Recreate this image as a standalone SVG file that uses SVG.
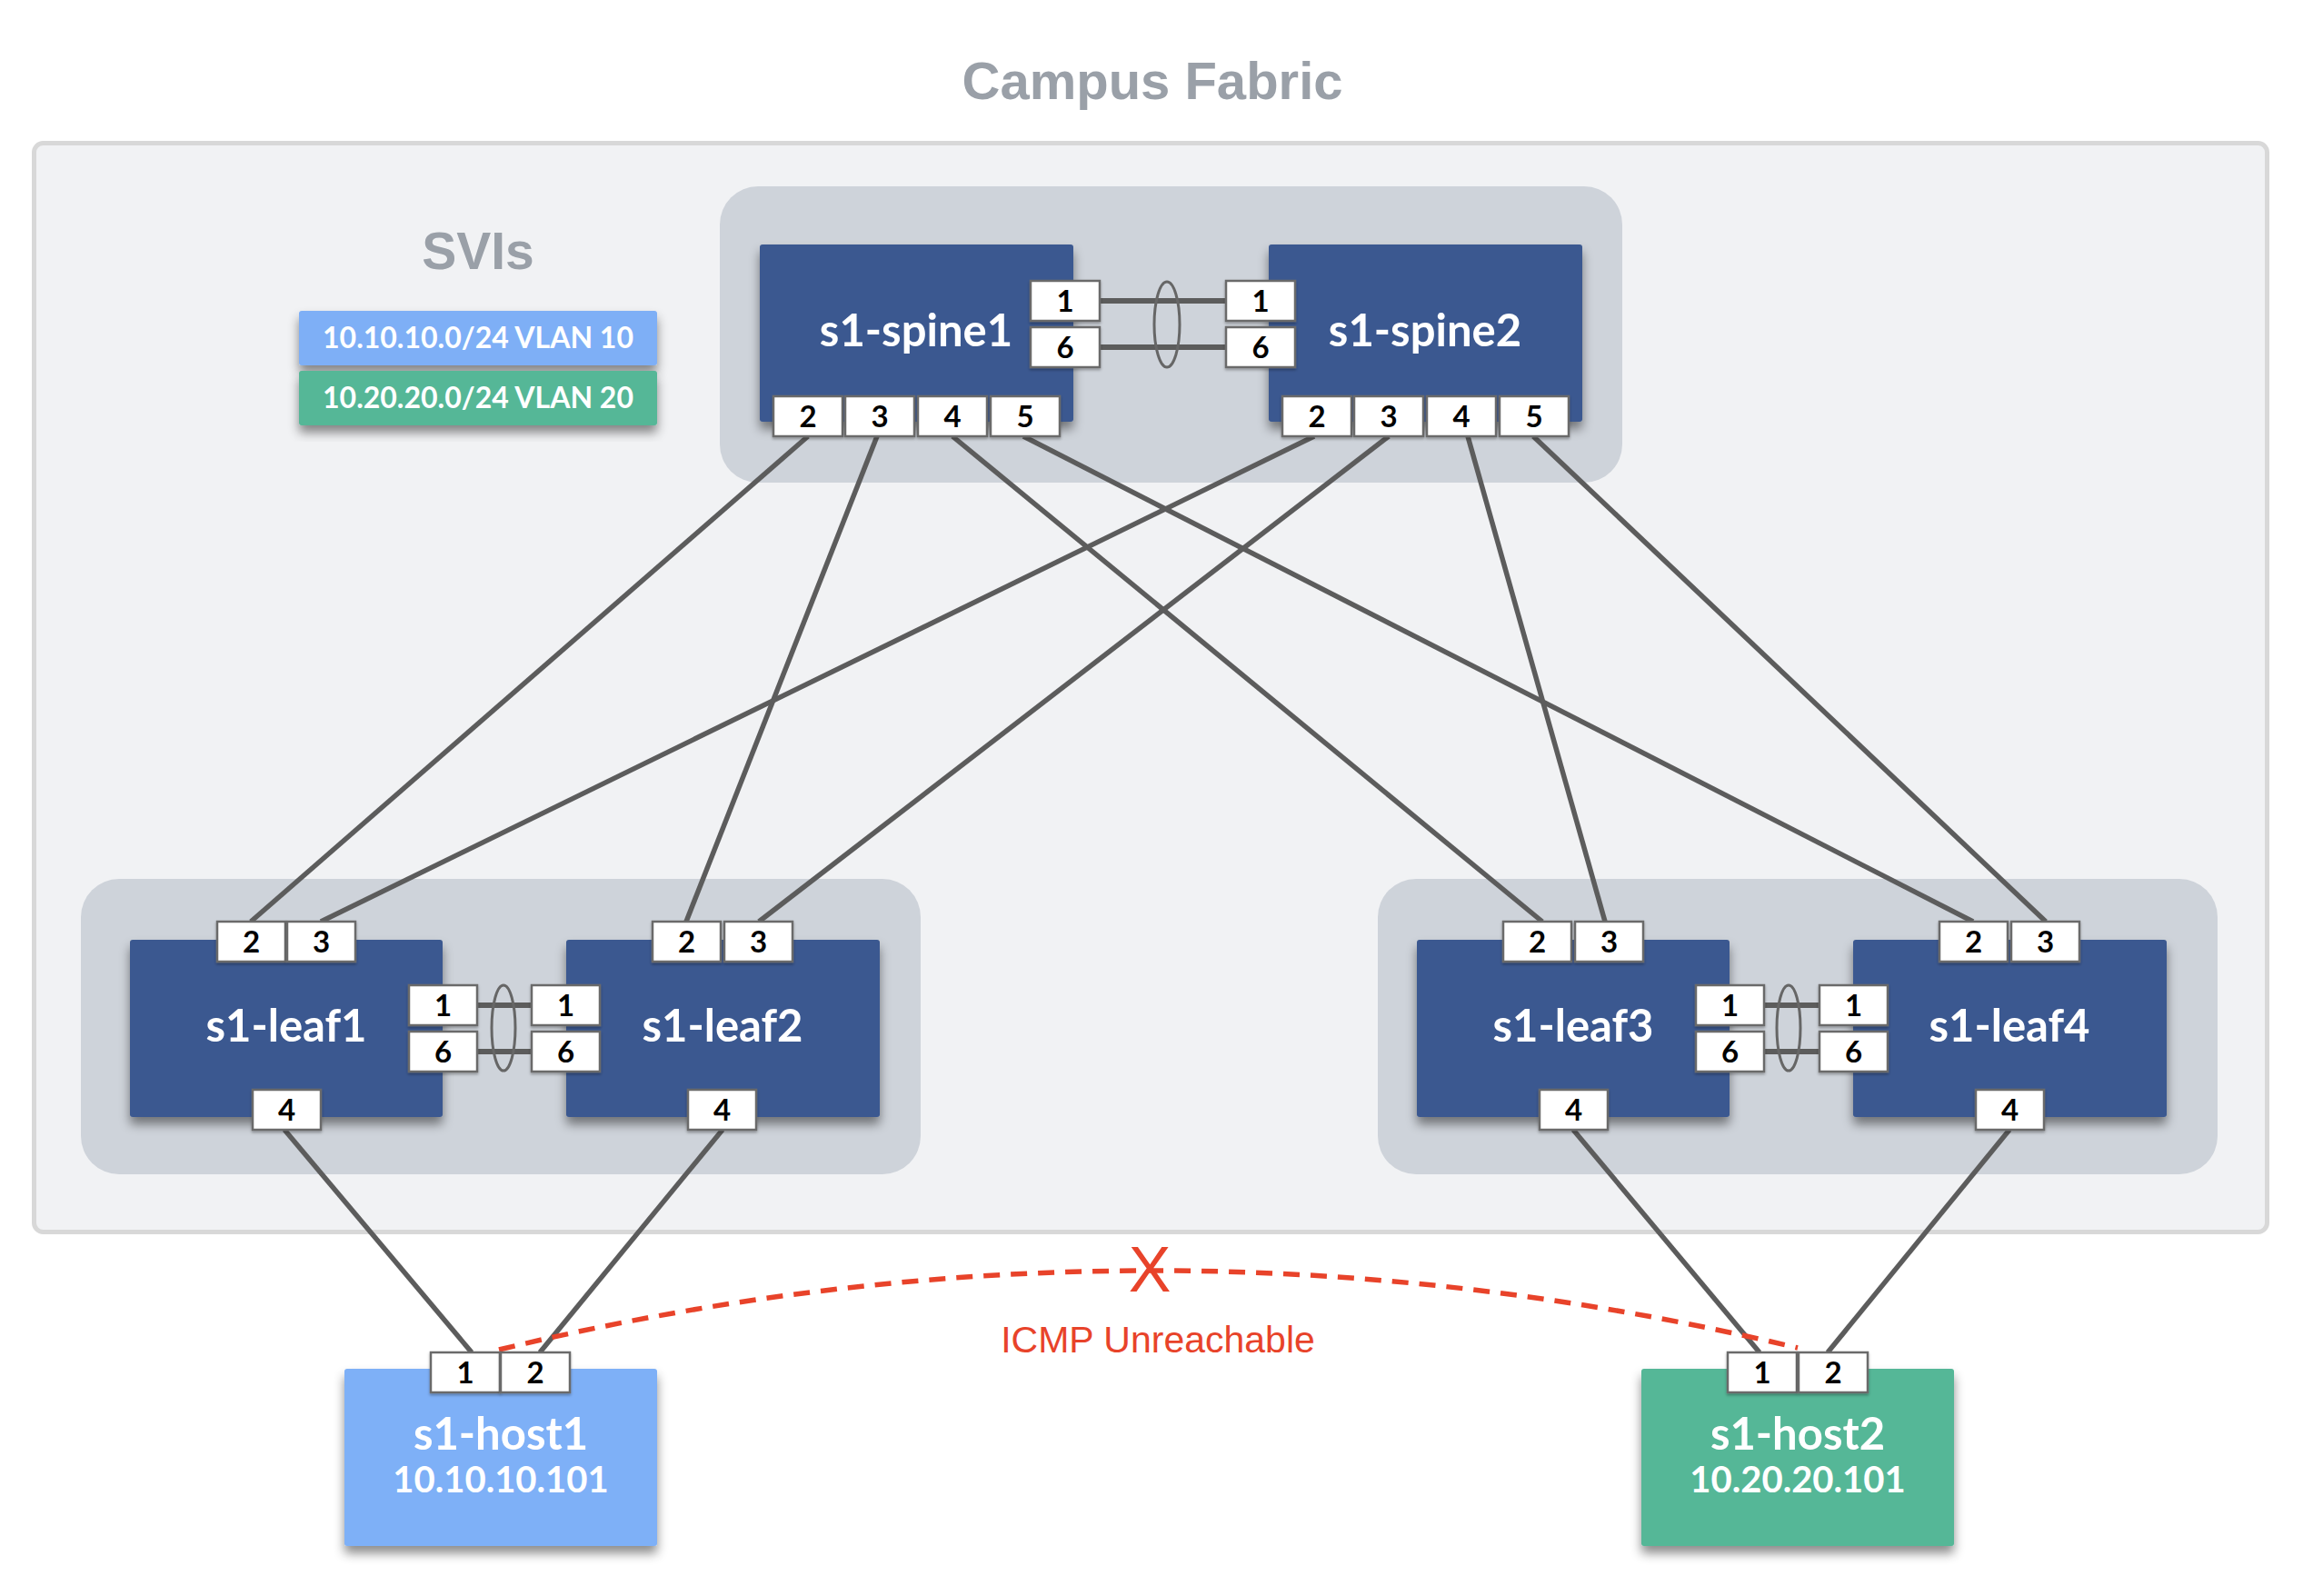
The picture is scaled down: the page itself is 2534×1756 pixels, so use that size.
<svg xmlns="http://www.w3.org/2000/svg" width="2534" height="1756" viewBox="0 0 2534 1756">
<defs>
<filter id="sh" x="-20%" y="-20%" width="140%" height="150%">
<feDropShadow dx="0" dy="8" stdDeviation="6" flood-color="#000" flood-opacity="0.45"/>
</filter>
<filter id="psh" x="-20%" y="-20%" width="140%" height="160%">
<feDropShadow dx="0" dy="2" stdDeviation="1.5" flood-color="#000" flood-opacity="0.3"/>
</filter>
<style>
.title{font-family:"Liberation Sans",Arial,sans-serif;font-weight:bold;fill:#9aa0a8;text-anchor:middle}
.grp{fill:#ced3da}
.sw{fill:#3b5890;filter:url(#sh)}
.lbl{font-family:Lato,"Liberation Sans",sans-serif;font-weight:bold;fill:#fff;text-anchor:middle;font-size:49px}
.ip{font-family:Lato,"Liberation Sans",sans-serif;font-weight:bold;fill:#fff;text-anchor:middle;font-size:40px}
.port rect{fill:#fff;stroke:#6b6b6b;stroke-width:2.5;filter:url(#psh)}
.port text{font-family:Lato,"Liberation Sans",sans-serif;font-weight:bold;font-size:33px;fill:#000;text-anchor:middle}
.link{stroke:#5c5c5c;stroke-width:5.5;fill:none}
.lag{stroke:#5c5c5c;stroke-width:6;fill:none}
.ring{stroke:#666;stroke-width:3;fill:none}
.vlan{font-family:Lato,"Liberation Sans",sans-serif;font-weight:bold;fill:#fff;text-anchor:middle;font-size:32px}
</style>
</defs>
<rect width="2534" height="1756" fill="#fff"/>
<text class="title" x="1268" y="109" font-size="58">Campus Fabric</text>
<rect id="campus" x="37.5" y="157.5" width="2457" height="1198" rx="10" fill="#f1f2f4" stroke="#d8d8d8" stroke-width="5"/>
<g id="svis">
<text class="title" x="526" y="296" font-size="57">SVIs</text>
<rect x="329" y="342" width="394" height="60" rx="3" fill="#7eaff6" filter="url(#sh)"/>
<text class="vlan" x="526" y="383">10.10.10.0/24 VLAN 10</text>
<rect x="329" y="408" width="394" height="60" rx="3" fill="#54b797" filter="url(#sh)"/>
<text class="vlan" x="526" y="449">10.20.20.0/24 VLAN 20</text>
</g>
<g id="groups">
<rect class="grp" x="792" y="205" width="993" height="326" rx="42"/>
<rect class="grp" x="89" y="967" width="924" height="325" rx="42"/>
<rect class="grp" x="1516" y="967" width="924" height="325" rx="42"/>
</g>
<g id="connectors">
<line class="link" x1="889" y1="480" x2="276" y2="1014"/>
<line class="link" x1="965" y1="480" x2="755" y2="1014"/>
<line class="link" x1="1048" y1="480" x2="1697" y2="1014"/>
<line class="link" x1="1126" y1="480" x2="2171" y2="1014"/>
<line class="link" x1="1446" y1="480" x2="353" y2="1014"/>
<line class="link" x1="1528" y1="480" x2="835" y2="1014"/>
<line class="link" x1="1615" y1="480" x2="1766" y2="1014"/>
<line class="link" x1="1687" y1="480" x2="2251" y2="1014"/>
<line class="link" x1="313" y1="1243" x2="519" y2="1488"/>
<line class="link" x1="795" y1="1243" x2="594" y2="1488"/>
<line class="link" x1="1731" y1="1243" x2="1936" y2="1488"/>
<line class="link" x1="2211" y1="1243" x2="2011" y2="1488"/>
<line class="lag" x1="1205" y1="331" x2="1355" y2="331"/>
<line class="lag" x1="1205" y1="382" x2="1355" y2="382"/>
<ellipse class="ring" cx="1284" cy="357" rx="14" ry="47"/>
<line class="lag" x1="520" y1="1106" x2="590" y2="1106"/>
<line class="lag" x1="520" y1="1157" x2="590" y2="1157"/>
<ellipse class="ring" cx="554" cy="1131" rx="13" ry="47"/>
<line class="lag" x1="1936" y1="1106" x2="2006" y2="1106"/>
<line class="lag" x1="1936" y1="1157" x2="2006" y2="1157"/>
<ellipse class="ring" cx="1968" cy="1131" rx="13" ry="47"/>
<path d="M549,1485 Q1264,1312 1978,1483" fill="none" stroke="#e8432a" stroke-width="5.5" stroke-dasharray="18 12"/>
</g>
<g id="icmp">
<text x="1265" y="1421" font-family="Liberation Sans,Arial,sans-serif" font-size="70" fill="#e8432a" text-anchor="middle">X</text>
<text x="1274" y="1488" font-family="Liberation Sans,Arial,sans-serif" font-size="41" fill="#e8432a" text-anchor="middle">ICMP Unreachable</text>
</g>
<g id="s1-spine1">
<rect class="sw" x="836" y="269" width="345" height="195" rx="3"/>
<text class="lbl" x="1008" y="381">s1-spine1</text>
<g class="port"><rect x="1134" y="309" width="76" height="44"/><text x="1172" y="343">1</text></g>
<g class="port"><rect x="1134" y="360" width="76" height="44"/><text x="1172" y="394">6</text></g>
<g class="port"><rect x="851" y="436" width="76" height="44"/><text x="889" y="470">2</text></g>
<g class="port"><rect x="930" y="436" width="76" height="44"/><text x="968" y="470">3</text></g>
<g class="port"><rect x="1010" y="436" width="76" height="44"/><text x="1048" y="470">4</text></g>
<g class="port"><rect x="1090" y="436" width="76" height="44"/><text x="1128" y="470">5</text></g>
</g>
<g id="s1-spine2">
<rect class="sw" x="1396" y="269" width="345" height="195" rx="3"/>
<text class="lbl" x="1568" y="381">s1-spine2</text>
<g class="port"><rect x="1349" y="309" width="76" height="44"/><text x="1387" y="343">1</text></g>
<g class="port"><rect x="1349" y="360" width="76" height="44"/><text x="1387" y="394">6</text></g>
<g class="port"><rect x="1411" y="436" width="76" height="44"/><text x="1449" y="470">2</text></g>
<g class="port"><rect x="1490" y="436" width="76" height="44"/><text x="1528" y="470">3</text></g>
<g class="port"><rect x="1570" y="436" width="76" height="44"/><text x="1608" y="470">4</text></g>
<g class="port"><rect x="1650" y="436" width="76" height="44"/><text x="1688" y="470">5</text></g>
</g>
<g id="s1-leaf1">
<rect class="sw" x="143" y="1034" width="344" height="195" rx="3"/>
<text class="lbl" x="315" y="1146">s1-leaf1</text>
<g class="port"><rect x="239" y="1014" width="75" height="44"/><text x="276.5" y="1048">2</text></g>
<g class="port"><rect x="316" y="1014" width="75" height="44"/><text x="353.5" y="1048">3</text></g>
<g class="port"><rect x="278" y="1199" width="75" height="44"/><text x="315.5" y="1233">4</text></g>
<g class="port"><rect x="450" y="1084" width="75" height="44"/><text x="487.5" y="1118">1</text></g>
<g class="port"><rect x="450" y="1135" width="75" height="44"/><text x="487.5" y="1169">6</text></g>
</g>
<g id="s1-leaf2">
<rect class="sw" x="623" y="1034" width="345" height="195" rx="3"/>
<text class="lbl" x="795" y="1146">s1-leaf2</text>
<g class="port"><rect x="585" y="1084" width="75" height="44"/><text x="622.5" y="1118">1</text></g>
<g class="port"><rect x="585" y="1135" width="75" height="44"/><text x="622.5" y="1169">6</text></g>
<g class="port"><rect x="718" y="1014" width="75" height="44"/><text x="755.5" y="1048">2</text></g>
<g class="port"><rect x="797" y="1014" width="75" height="44"/><text x="834.5" y="1048">3</text></g>
<g class="port"><rect x="757" y="1199" width="75" height="44"/><text x="794.5" y="1233">4</text></g>
</g>
<g id="s1-leaf3">
<rect class="sw" x="1559" y="1034" width="344" height="195" rx="3"/>
<text class="lbl" x="1731" y="1146">s1-leaf3</text>
<g class="port"><rect x="1654" y="1014" width="75" height="44"/><text x="1691.5" y="1048">2</text></g>
<g class="port"><rect x="1733" y="1014" width="75" height="44"/><text x="1770.5" y="1048">3</text></g>
<g class="port"><rect x="1694" y="1199" width="75" height="44"/><text x="1731.5" y="1233">4</text></g>
<g class="port"><rect x="1866" y="1084" width="75" height="44"/><text x="1903.5" y="1118">1</text></g>
<g class="port"><rect x="1866" y="1135" width="75" height="44"/><text x="1903.5" y="1169">6</text></g>
</g>
<g id="s1-leaf4">
<rect class="sw" x="2039" y="1034" width="345" height="195" rx="3"/>
<text class="lbl" x="2211" y="1146">s1-leaf4</text>
<g class="port"><rect x="2002" y="1084" width="75" height="44"/><text x="2039.5" y="1118">1</text></g>
<g class="port"><rect x="2002" y="1135" width="75" height="44"/><text x="2039.5" y="1169">6</text></g>
<g class="port"><rect x="2134" y="1014" width="75" height="44"/><text x="2171.5" y="1048">2</text></g>
<g class="port"><rect x="2213" y="1014" width="75" height="44"/><text x="2250.5" y="1048">3</text></g>
<g class="port"><rect x="2174" y="1199" width="75" height="44"/><text x="2211.5" y="1233">4</text></g>
</g>
<g id="s1-host1">
<rect x="379" y="1506" width="344" height="195" rx="3" fill="#7eb0f7" filter="url(#sh)"/>
<text class="lbl" x="551" y="1595">s1-host1</text>
<text class="ip" x="551" y="1642">10.10.10.101</text>
<g class="port"><rect x="474" y="1488" width="76" height="44"/><text x="512" y="1522">1</text></g>
<g class="port"><rect x="551" y="1488" width="76" height="44"/><text x="589" y="1522">2</text></g>
</g>
<g id="s1-host2">
<rect x="1806" y="1506" width="344" height="195" rx="3" fill="#54b797" filter="url(#sh)"/>
<text class="lbl" x="1978" y="1595">s1-host2</text>
<text class="ip" x="1978" y="1642">10.20.20.101</text>
<g class="port"><rect x="1901" y="1488" width="76" height="44"/><text x="1939" y="1522">1</text></g>
<g class="port"><rect x="1979" y="1488" width="76" height="44"/><text x="2017" y="1522">2</text></g>
</g>
</svg>
